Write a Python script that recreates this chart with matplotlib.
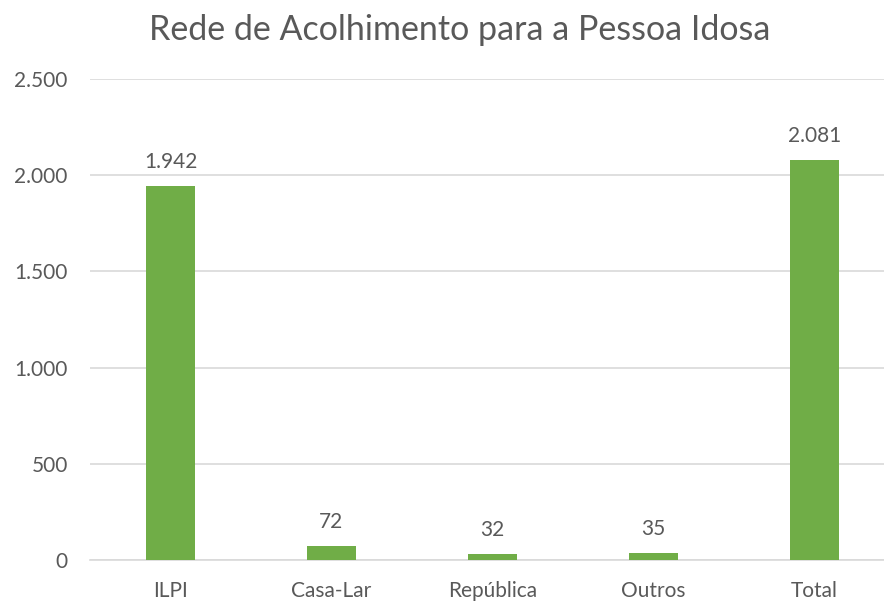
import matplotlib
matplotlib.use("Agg")
import matplotlib.pyplot as plt
from matplotlib.ticker import FuncFormatter

categories = ["ILPI", "Casa-Lar", "República", "Outros", "Total"]
values = [1942, 72, 32, 35, 2081]
yticks = [0, 500, 1000, 1500, 2000, 2500]

plt.rcParams['font.family'] = ['Lato', 'DejaVu Sans']
text_color = "#595959"
green = "#70AD47"

fig = plt.figure(figsize=(8.84, 6.03), dpi=100)
W, H = 884, 603
ax = fig.add_axes([90 / W, (H - 560) / H, 805 / W, 481 / H])

x = list(range(len(categories)))
bars = ax.bar(x, values, width=0.31, color=green, zorder=3)

ax.set_xlim(-0.5, len(categories) - 0.5)
ax.set_ylim(0, 2500)
ax.set_yticks(yticks)

def fmt(v, pos=None):
    return f"{int(v):,}".replace(",", ".")

ax.yaxis.set_major_formatter(FuncFormatter(fmt))
ax.set_xticks(x)
ax.set_xticklabels(categories)

ax.grid(axis='y', color="#D9D9D9", linewidth=1.2, zorder=0)
for s in ["top", "right", "left"]:
    ax.spines[s].set_visible(False)
ax.spines["bottom"].set_color("#D9D9D9")
ax.spines["bottom"].set_linewidth(1.2)
ax.tick_params(axis='both', length=0, labelsize=15, colors=text_color)
ax.tick_params(axis='y', pad=16)
ax.tick_params(axis='x', pad=15)

for xi, v in zip(x, values):
    ax.annotate(fmt(v), (xi, v), xytext=(0, 10), textcoords="offset points",
                ha="center", va="bottom", fontsize=15, color=text_color)

fig.text(460 / W, 1 - 30 / H, "Rede de Acolhimento para a Pessoa Idosa",
         ha="center", va="center", fontsize=24.5, color=text_color)

fig.savefig("out.png", dpi=100)
